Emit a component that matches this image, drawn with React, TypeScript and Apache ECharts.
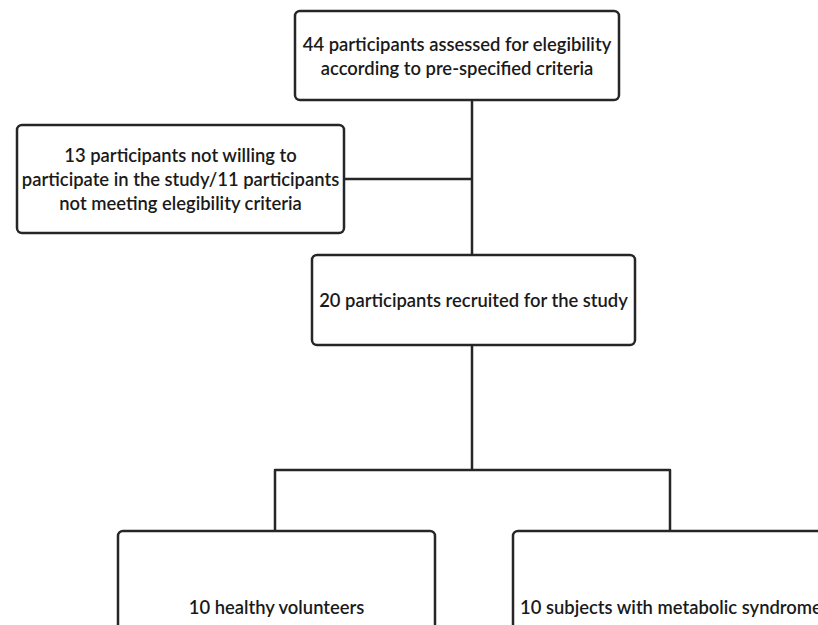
import React, { useEffect, useRef } from "react";
import * as echarts from "echarts";

const boxLabels: string[] = [
  "44 participants assessed for elegibility\naccording to pre-specified criteria",
  "13 participants not willing to\nparticipate in the study/11 participants\nnot meeting elegibility criteria",
  "20 participants recruited for the study",
  "10 healthy volunteers",
  "10 subjects with metabolic syndrome",
];

// box geometry [x, y, w, h]
const boxes: number[][] = [
  [295, 11, 324, 89],
  [17, 125, 327, 108],
  [312, 255, 323, 90],
  [118, 531, 317, 120],
  [513, 531, 340, 120],
];

const FONT = "Lato, 'Open Sans', sans-serif";
const STROKE = "#262626";

export default function App() {
  const ref = useRef<HTMLDivElement>(null);
  useEffect(() => {
    if (!ref.current) return;
    const chart = echarts.init(ref.current, null, { renderer: "svg" });
    const elements: any[] = [];
    const lineStyle = { stroke: STROKE, lineWidth: 2.5 };
    // connectors
    elements.push({ type: "line", shape: { x1: 472, y1: 100, x2: 472, y2: 255 }, style: lineStyle });
    elements.push({ type: "line", shape: { x1: 344, y1: 179, x2: 472, y2: 179 }, style: lineStyle });
    elements.push({ type: "line", shape: { x1: 472, y1: 345, x2: 472, y2: 470 }, style: lineStyle });
    elements.push({
      type: "polyline",
      shape: { points: [[275, 531], [275, 470], [670, 470], [670, 531]] },
      style: { ...lineStyle, fill: null, lineJoin: "round" },
    });
    boxes.forEach((b, i) => {
      elements.push({
        type: "rect",
        shape: { x: b[0], y: b[1], width: b[2], height: b[3], r: 5 },
        style: { fill: "#fff", stroke: STROKE, lineWidth: 2.5 },
      });
      const isBottom = i >= 3;
      const cx = i === 4 ? b[0] + 7 : b[0] + b[2] / 2;
      const cy = isBottom ? 607 : b[1] + b[3] / 2;
      elements.push({
        type: "text",
        x: cx,
        y: cy,
        style: {
          text: boxLabels[i],
          fill: "#1a1a1a",
          font: `600 18.4px ${FONT}`,
          align: i === 4 ? "left" : "center",
          verticalAlign: "middle",
          lineHeight: 24,
        },
      });
    });
    chart.setOption({ animation: false, graphic: { elements } });
    return () => chart.dispose();
  }, []);
  return (
    <div
      ref={ref}
      style={{ position: "fixed", left: 0, top: 0, width: 818, height: 625, background: "#fff" }}
    />
  );
}
